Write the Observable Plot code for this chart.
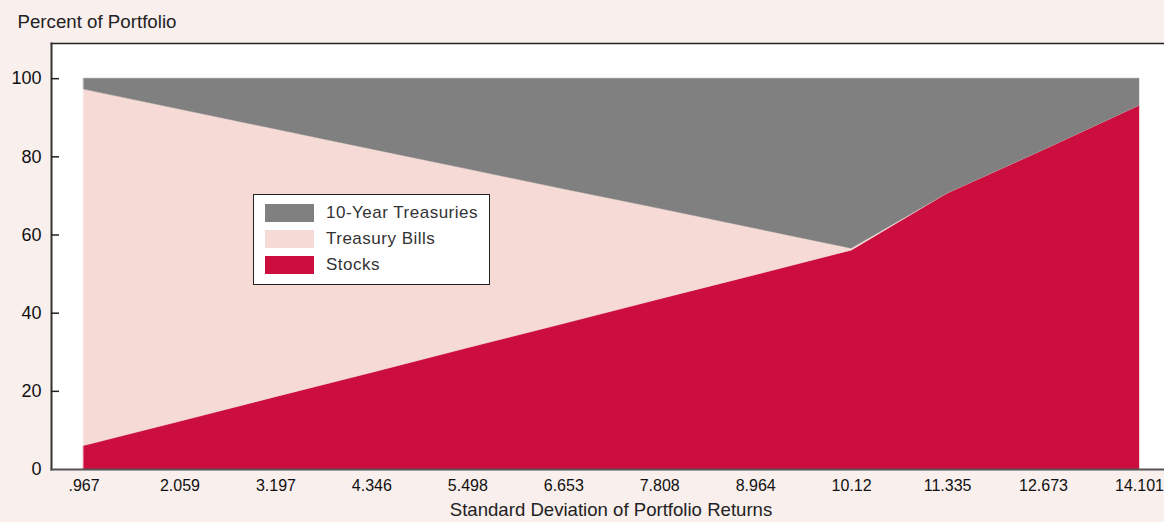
<!DOCTYPE html>
<html><head><meta charset="utf-8">
<script src="https://cdn.jsdelivr.net/npm/d3@7"></script>
<script src="https://cdn.jsdelivr.net/npm/@observablehq/plot@0.6"></script>
<style>
html,body{margin:0;padding:0;background:#f9efed;}
#wrap{position:relative;width:1164px;height:522px;overflow:hidden;font-family:"Liberation Sans",Arial,sans-serif;}
#wrap svg{display:block;}
.legend{position:absolute;left:253px;top:194px;width:237px;height:91px;background:#fff;border:1.5px solid #222;box-sizing:border-box;}
.legend .sw{position:absolute;left:11px;width:49px;height:18px;}
.legend .lb{position:absolute;left:72px;font-size:17px;letter-spacing:0.5px;line-height:18px;color:#333;white-space:nowrap;}
</style></head>
<body><div id="wrap"></div>
<script>
// x categories: standard deviation of portfolio returns
const sdLabels = [".967","2.059","3.197","4.346","5.498","6.653","7.808","8.964","10.12","11.335","12.673","14.101"];
// percent of portfolio per asset class
const stocks     = [6.0, 12.2, 18.5, 24.7, 31.0, 37.2, 43.5, 49.7, 56.0, 70.6, 81.7, 93.1];
const bills      = [91.2, 79.9, 68.5, 57.2, 45.8, 34.5, 23.2, 11.9, 0.5, 0, 0, 0];
const treasuries = [2.8, 7.9, 13.0, 18.1, 23.2, 28.3, 33.3, 38.4, 43.5, 29.4, 18.3, 6.9];
const seriesNames = ["Stocks", "Treasury Bills", "10-Year Treasuries"];
const seriesColors = ["#cc0e3f", "#f5dad5", "#808080"];
const legendOrder = ["10-Year Treasuries", "Treasury Bills", "Stocks"];
const yTicks = [0, 20, 40, 60, 80, 100];

const seriesValues = [stocks, bills, treasuries];
const rows = [];
seriesNames.forEach((s, k) => sdLabels.forEach((x, i) => rows.push({sd: x, series: s, pct: seriesValues[k][i]})));

const font = '"Liberation Sans", Arial, sans-serif';
const chart = Plot.plot({
  width: 1164, height: 522,
  marginLeft: 51, marginRight: 0, marginTop: 43, marginBottom: 53,
  style: {background: "transparent", fontFamily: font, color: "#111"},
  x: {type: "point", domain: sdLabels, padding: 0, round: false, insetLeft: 32.5, insetRight: 25, label: null},
  y: {domain: [0, 109], label: null},
  color: {domain: seriesNames, range: seriesColors},
  marks: [
    Plot.frame({fill: "white", stroke: null}),
    Plot.areaY(rows, {x: "sd", y: "pct", z: "series", fill: "series", stroke: "series", strokeWidth: 0.4, order: seriesNames}),
    Plot.frame({anchor: "top", stroke: "#222", strokeWidth: 1.5}),
    Plot.frame({anchor: "left", stroke: "#333", strokeWidth: 2}),
    Plot.frame({anchor: "bottom", stroke: "#555", strokeWidth: 2}),
    Plot.axisY(yTicks, {tickSize: 0, tickPadding: 10, fontSize: 18, fill: "#111"}),
    Plot.axisX({tickSize: 0, tickPadding: 10, fontSize: 16, fill: "#111"}),
    Plot.axisY(yTicks.filter(d => d > 0), {tickSize: 8, dx: 8, tickFormat: () => "", stroke: "#222", strokeWidth: 1.5}),
    Plot.text(["Percent of Portfolio"], {frameAnchor: "top-left", dx: -34, dy: -15.5, textAnchor: "start", lineAnchor: "bottom", fontSize: 18.7, fill: "#222"}),
    Plot.text(["Standard Deviation of Portfolio Returns"], {frameAnchor: "bottom", dx: 3, dy: 46, lineAnchor: "bottom", fontSize: 18.6, fill: "#222"})
  ]
});
const wrap = document.getElementById("wrap");
wrap.appendChild(chart);

const color = d3.scaleOrdinal(seriesNames, seriesColors);
const leg = document.createElement("div");
leg.className = "legend";
const rowTops = [9, 35, 61];
legendOrder.forEach((name, i) => {
  const sw = document.createElement("div");
  sw.className = "sw"; sw.style.top = rowTops[i] + "px"; sw.style.background = color(name);
  const lb = document.createElement("div");
  lb.className = "lb"; lb.style.top = rowTops[i] + "px"; lb.textContent = name;
  leg.appendChild(sw); leg.appendChild(lb);
});
wrap.appendChild(leg);
</script>
</body></html>
